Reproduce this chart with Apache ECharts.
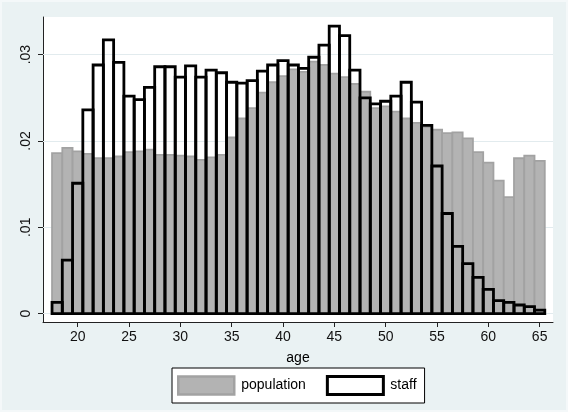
<!DOCTYPE html>
<html>
<head>
<meta charset="utf-8">
<script src="https://cdn.jsdelivr.net/npm/echarts@6/dist/echarts.min.js"></script>
<style>
html,body{margin:0;padding:0;background:#eaf2f3;}
#chart{width:568px;height:412px;}
</style>
</head>
<body>
<div id="chart"></div>
<script>
// ---- data ----
const ages = [18,19,20,21,22,23,24,25,26,27,28,29,30,31,32,33,34,35,36,37,38,39,40,41,
              42,43,44,45,46,47,48,49,50,51,52,53,54,55,56,57,58,59,60,61,62,63,64,65];
const population = [0.0186,0.0192,0.0188,0.0185,0.0180,0.0180,0.0182,0.0187,0.0188,0.0190,
                    0.0184,0.0184,0.0183,0.0182,0.0178,0.0181,0.0184,0.0204,0.0226,0.0238,
                    0.0256,0.0268,0.0275,0.0283,0.0280,0.0292,0.0288,0.0278,0.0274,0.0266,
                    0.0257,0.0238,0.0240,0.0234,0.0226,0.0221,0.0216,0.0213,0.0209,0.0210,
                    0.0203,0.0187,0.0175,0.0154,0.0135,0.0180,0.0183,0.0177];
const staff = [0.0013,0.0062,0.0151,0.0236,0.0288,0.0317,0.0291,0.0252,0.0248,0.0262,
               0.0286,0.0286,0.0274,0.0287,0.0274,0.0282,0.0279,0.0268,0.0267,0.0270,
               0.0281,0.0288,0.0293,0.0288,0.0284,0.0297,0.0311,0.0333,0.0322,0.0282,
               0.0250,0.0243,0.0246,0.0252,0.0268,0.0245,0.0218,0.0171,0.0116,0.0078,
               0.0058,0.0042,0.0028,0.0015,0.0013,0.0010,0.0008,0.0004];
const xTicks = [20,25,30,35,40,45,50,55,60,65];
const yTicks = [0,0.01,0.02,0.03];
const yTickLabels = ['0','.01','.02','.03'];
const seriesNames = ['population','staff'];
const xTitle = 'age';

// ---- chart ----
const FONT = '"Liberation Sans", Arial, Helvetica, sans-serif';
const chart = echarts.init(document.getElementById('chart'), null, {renderer:'canvas'});

function barRenderer(style){
  return function(params, api){
    const a = api.value(0), v = api.value(1);
    const p0 = api.coord([a - 0.5, v]);
    const p1 = api.coord([a + 0.5, 0]);
    return {
      type:'rect',
      shape:{x:p0[0], y:p0[1], width:p1[0]-p0[0], height:p1[1]-p0[1]},
      style: style
    };
  };
}

const popStyle = {fill:'#b3b3b3', stroke:'#a2a2a2', lineWidth:1.8};
const staffStyle = {fill:'none', stroke:'#000', lineWidth:2.8};

chart.setOption({
  backgroundColor:'#eaf2f3',
  animation:false,
  textStyle:{fontFamily:FONT},
  graphic:[{type:'rect', shape:{x:0,y:0,width:568,height:412}, style:{fill:'none', stroke:'#f4f8f9', lineWidth:4}, silent:true}],
  grid:{left:43, right:15, top:17, bottom:90, show:true, backgroundColor:'#ffffff', borderWidth:0, containLabel:false, outerBoundsMode:'none'},
  legend:{
    left:172, top:368,
    orient:'horizontal',
    padding:[7,8,7,5],
    itemGap:20, itemWidth:56, itemHeight:18,
    backgroundColor:'#ffffff', borderColor:'#000', borderWidth:1, borderRadius:0,
    textStyle:{fontSize:14, color:'#000', fontFamily:FONT, padding:[0,0,0,2]},
    selectedMode:false,
    data:[
      {name:seriesNames[0], icon:'rect', itemStyle:{color:'#b3b3b3', borderColor:'#a2a2a2', borderWidth:2.5}},
      {name:seriesNames[1], icon:'rect', itemStyle:{color:'#ffffff', borderColor:'#000000', borderWidth:3}}
    ]
  },
  xAxis:{
    type:'value', min:16.62, max:66.3,
    name:xTitle, nameLocation:'middle', nameGap:29,
    nameTextStyle:{fontSize:14, color:'#000', fontFamily:FONT},
    axisLine:{show:true, onZero:false, lineStyle:{color:'#222', width:1}},
    axisTick:{show:true, length:5, customValues:xTicks, lineStyle:{color:'#222', width:1}},
    axisLabel:{show:true, customValues:xTicks, fontSize:14, color:'#111', margin:8, fontFamily:FONT},
    splitLine:{show:false}
  },
  yAxis:{
    type:'value', min:-0.00097, max:0.03436,
    axisLine:{show:true, onZero:false, lineStyle:{color:'#222', width:1}},
    axisTick:{show:true, length:5, customValues:yTicks, lineStyle:{color:'#222', width:1}},
    axisLabel:{show:true, customValues:yTicks, rotate:90, fontSize:14, color:'#111', margin:10, fontFamily:FONT,
      formatter:function(v){ const i = yTicks.findIndex(t => Math.abs(t - v) < 1e-9); return i >= 0 ? yTickLabels[i] : ''; }},
    splitLine:{show:false}
  },
  series:[
    {
      type:'line', data:[], z:1, silent:true,
      markLine:{
        silent:true, z:1, symbol:'none', label:{show:false},
        lineStyle:{color:'#e2ebee', width:1, type:'solid'},
        data: yTicks.map(t => ({yAxis:t}))
      }
    },
    {
      name:seriesNames[0], type:'custom', z:3,
      itemStyle:{color:'#b3b3b3'},
      renderItem: barRenderer(popStyle),
      encode:{x:0, y:1},
      data: ages.map((a,i) => [a, population[i]])
    },
    {
      name:seriesNames[1], type:'custom', z:4,
      itemStyle:{color:'#000'},
      renderItem: barRenderer(staffStyle),
      encode:{x:0, y:1},
      data: ages.map((a,i) => [a, staff[i]])
    }
  ]
});
</script>
</body>
</html>
